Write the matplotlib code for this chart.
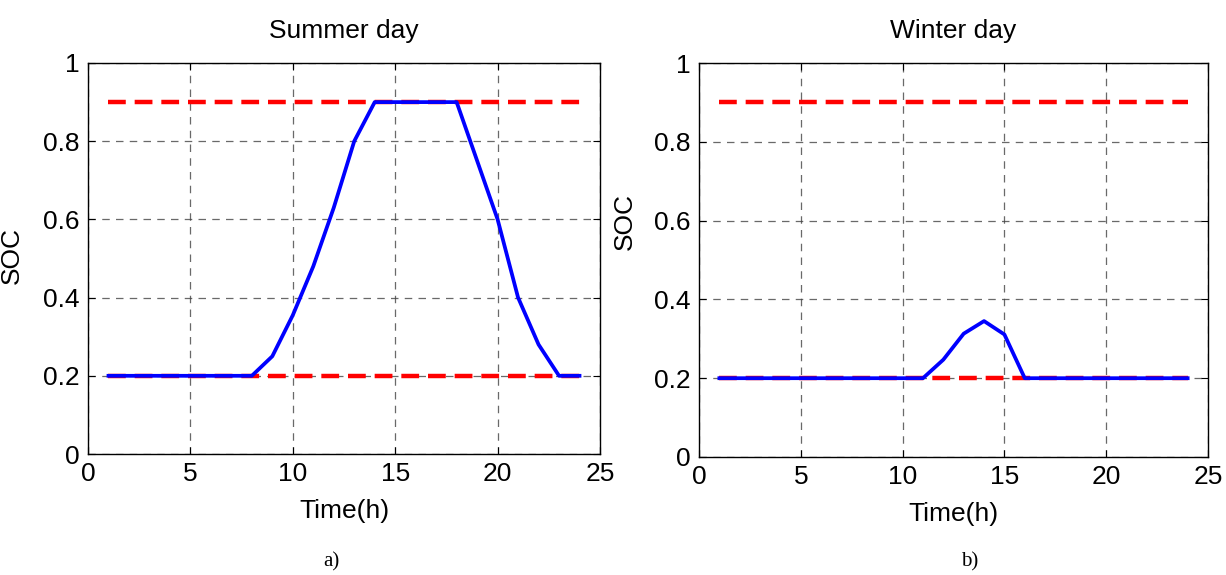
import matplotlib
matplotlib.use("Agg")
import matplotlib.pyplot as plt

plt.rcParams["font.family"] = ["Liberation Sans", "DejaVu Sans"]

hours = list(range(1, 25))
soc_summer = [0.2, 0.2, 0.2, 0.2, 0.2, 0.2, 0.2, 0.2, 0.25, 0.355, 0.48, 0.63,
              0.8, 0.9, 0.9, 0.9, 0.9, 0.9, 0.75, 0.6, 0.4, 0.28, 0.2, 0.2]
soc_winter = [0.2, 0.2, 0.2, 0.2, 0.2, 0.2, 0.2, 0.2, 0.2, 0.2, 0.2, 0.247,
              0.313, 0.345, 0.311, 0.2, 0.2, 0.2, 0.2, 0.2, 0.2, 0.2, 0.2, 0.2]
soc_max = 0.9
soc_min = 0.2
titles = ["Summer day", "Winter day"]
captions = ["a)", "b)"]

fig = plt.figure(figsize=(12.26, 5.75), dpi=100)
W, H = 1226, 575
# pixel boxes (left, top, right, bottom)
boxes = [(88, 63, 600, 454), (699, 63, 1208, 457)]
ylabel_pos = [(24, 256), (637, 221)]
caption_pos = [(331, 562), (970, 562)]

for i, soc in enumerate([soc_summer, soc_winter]):
    l, t, r, b = boxes[i]
    ax = fig.add_axes([l / W, 1 - b / H, (r - l) / W, (b - t) / H])
    ax.plot([hours[0], hours[-1]], [soc_max, soc_max], color="red", lw=3.2,
            ls=(0, (4, 2)), zorder=3)
    ax.plot([hours[0], hours[-1]], [soc_min, soc_min], color="red", lw=3.2,
            ls=(0, (4, 2)), zorder=3)
    ax.plot(hours, soc, color="blue", lw=2.7, zorder=4)
    ax.set_xlim(0, 25)
    ax.set_ylim(0, 1)
    ax.set_xticks([0, 5, 10, 15, 20, 25])
    ax.set_yticks([0, 0.2, 0.4, 0.6, 0.8, 1])
    ax.set_yticklabels(["0", "0.2", "0.4", "0.6", "0.8", "1"])
    ax.grid(True, color="#444444", ls=(0, (6, 5)), lw=0.9, alpha=0.8)
    ax.tick_params(direction="in", length=5, width=0.8, labelsize=19,
                   top=True, right=True, pad=6)
    for s in ax.spines.values():
        s.set_linewidth(1.0)
    ax.set_title(titles[i], fontsize=19, pad=18)
    ax.set_xlabel("Time(h)", fontsize=19, labelpad=9)
    ax.set_ylabel("SOC", fontsize=19)
    lx, ly = ylabel_pos[i]
    ax.yaxis.set_label_coords((lx - l) / (r - l), (b - ly) / (b - t))
    cx, cy = caption_pos[i]
    fig.text(cx / W, 1 - cy / H, captions[i], fontsize=15,
             family=["Liberation Serif", "DejaVu Serif"], ha="center", va="center")

fig.savefig("out.png", dpi=100)
